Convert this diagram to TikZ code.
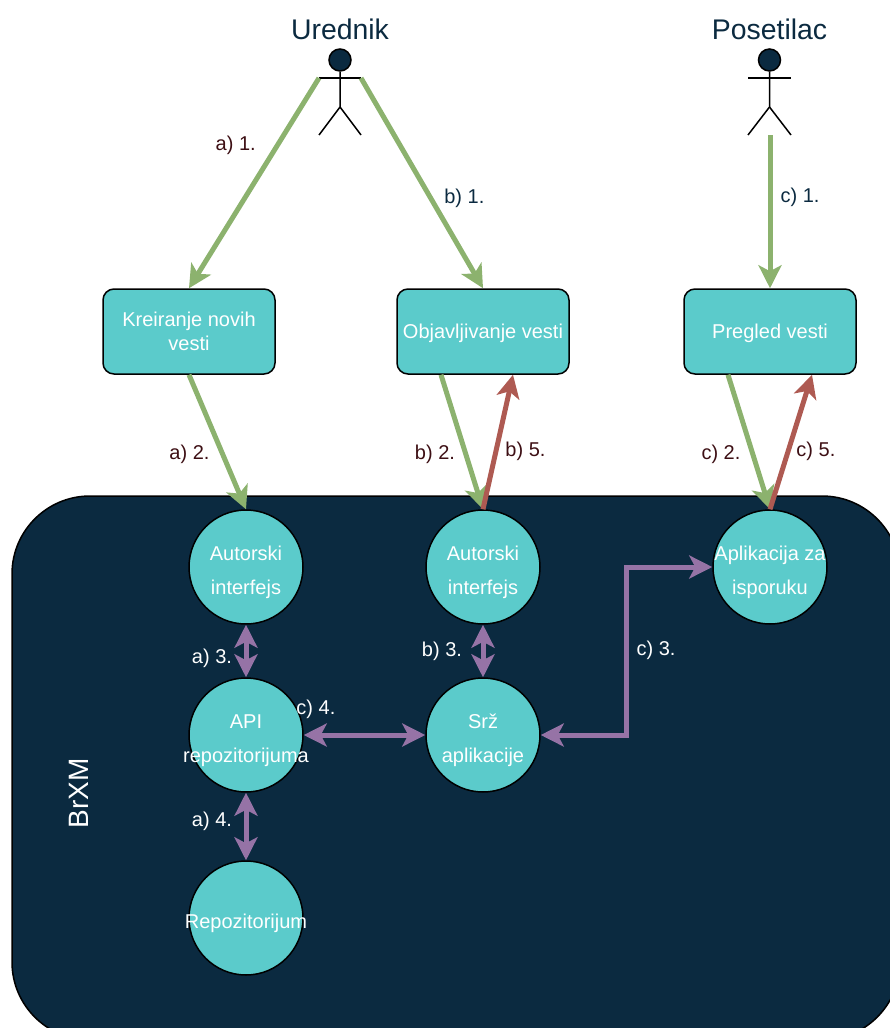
\documentclass[tikz,border=0pt]{standalone}
\usepackage{fontspec}
\setmainfont{Liberation Sans}
\usepackage{tikz}
\usetikzlibrary{shapes.geometric, arrows.meta, calc}
\definecolor{tamna}{HTML}{0B2A40}
\definecolor{tirkiz}{HTML}{5BCBCB}
\definecolor{zelena}{HTML}{8CB26E}
\definecolor{crvena}{HTML}{AE5A52}
\definecolor{ljubicasta}{HTML}{9673A6}
\definecolor{braon}{HTML}{3D0F14}
\newcommand{\clab}[1]{\makebox[0pt]{#1}}
\newcommand{\vrh}{\rule{0pt}{25pt}}

\begin{document}
\begin{tikzpicture}[x=1pt,y=1pt,line width=1.5pt]
\tikzstyle{okvir} = [rectangle, rounded corners=78pt, minimum width=888pt, minimum height=544pt, draw=black, fill=tamna]
\tikzstyle{krug} = [circle, minimum size=114pt, inner sep=0pt, draw=black, fill=tirkiz, text=white, align=center, font=\fontsize{20}{34}\selectfont]
\tikzstyle{kutija} = [rectangle, rounded corners=11pt, minimum width=172pt, minimum height=85pt, inner sep=0pt, draw=black, fill=tirkiz, text=white, align=center, font=\fontsize{20}{24}\selectfont]
\tikzstyle{glava} = [circle, minimum size=22pt, inner sep=0pt, draw=black, fill=tamna]
\tikzstyle{uloga} = [text=tamna, inner sep=0pt, font=\fontsize{28.4}{32}\selectfont]
\tikzstyle{oznaka} = [inner sep=0pt, yshift=-2.5pt, font=\fontsize{20}{24}\selectfont]
\tikzstyle{arrow} = [line width=5pt, -{Stealth[length=23pt,width=23pt,inset=6pt]}]
\tikzstyle{dvosmerna} = [line width=5pt, ljubicasta, {Stealth[length=23pt,width=23pt,inset=6pt]}-{Stealth[length=23pt,width=23pt,inset=6pt]}]
\useasboundingbox (0,0) rectangle (889,-1028);

% BrXM
\node (brxm) [okvir] at (456,-768) {};
\node (naziv) [text=white, rotate=90, inner sep=0pt, font=\fontsize{28}{32}\selectfont] at (79,-793) {BrXM};

% Krugovi
\node (autorA) [krug] at (246,-567) {\vrh Autorski\\interfejs};
\node (apiRepo) [krug, below of=autorA, node distance=168pt] {\vrh API\\\clab{repozitorijuma}};
\node (repo) [krug, below of=apiRepo, node distance=183pt] {\vrh\clab{Repozitorijum}};
\node (autorB) [krug, right of=autorA, node distance=237pt] {\vrh Autorski\\interfejs};
\node (srz) [krug, below of=autorB, node distance=168pt] {\vrh Srž\\aplikacije};
\node (isporuka) [krug, right of=autorB, node distance=287pt] {\vrh\clab{Aplikacija za}\\isporuku};

% Kutije
\node (kreiranje) [kutija, above of=autorA, node distance=235.5pt, xshift=-57pt] {Kreiranje novih\\vesti};
\node (objava) [kutija, above of=autorB, node distance=235.5pt] {\rule{0pt}{18pt}Objavljivanje vesti};
\node (pregled) [kutija, above of=isporuka, node distance=235.5pt] {\rule{0pt}{18pt}Pregled vesti};

% Akteri
\node (glavaU) [glava] at (340,-60) {};
\node (urednik) [uloga, above of=glavaU, node distance=31pt] {Urednik};
\coordinate (ruka1U) at (319,-78);
\coordinate (ruka2U) at (361,-78);
\coordinate (kukU) at (340,-107);
\coordinate (noga1U) at (319,-135);
\coordinate (noga2U) at (361,-135);
\draw (glavaU) -- (kukU) -- (noga1U);
\draw (kukU) -- (noga2U);
\draw (ruka1U) -- (ruka2U);

\node (glavaP) [glava] at (769.5,-60) {};
\node (posetilac) [uloga, above of=glavaP, node distance=31pt] {Posetilac};
\coordinate (ruka1P) at (748,-78);
\coordinate (ruka2P) at (791,-78);
\coordinate (kukP) at (769.5,-107);
\coordinate (noga1P) at (748,-135);
\coordinate (noga2P) at (791,-135);
\draw (glavaP) -- (kukP) -- (noga1P);
\draw (kukP) -- (noga2P);
\draw (ruka1P) -- (ruka2P);

% Strelice
\draw [arrow, zelena] (ruka1U) -- node[oznaka, text=braon, pos=0.31, xshift=-43pt] {a) 1.} (kreiranje.north);
\draw [arrow, zelena] (ruka2U) -- node[oznaka, text=tamna, pos=0.56, xshift=35pt] {b) 1.} (objava.north);
\draw [arrow, zelena] (noga1P -| pregled.north) -- node[oznaka, text=tamna, pos=0.39, xshift=30pt] {c) 1.} (pregled.north);
\draw [arrow, zelena] (kreiranje.south) -- node[oznaka, text=braon, pos=0.57, xshift=-32pt] {a) 2.} (autorA.north);
\draw [arrow, zelena] ($(objava.south)+(-42,0)$) -- node[oznaka, text=braon, pos=0.57, xshift=-30pt] {b) 2.} (autorB.north);
\draw [arrow, crvena] (autorB.north) -- node[oznaka, text=braon, pos=0.45, xshift=29pt] {b) 5.} ($(objava.south)+(30,0)$);
\draw [arrow, zelena] ($(pregled.south)+(-42,0)$) -- node[oznaka, text=braon, pos=0.57, xshift=-31pt] {c) 2.} (isporuka.north);
\draw [arrow, crvena] (isporuka.north) -- node[oznaka, text=braon, pos=0.45, xshift=27pt] {c) 5.} ($(pregled.south)+(42,0)$);
\draw [dvosmerna] (autorA.south) -- node[oznaka, text=white, pos=0.6, xshift=-34pt] {a) 3.} (apiRepo.north);
\draw [dvosmerna] (apiRepo.south) -- node[oznaka, text=white, pos=0.38, xshift=-34pt] {a) 4.} (repo.north);
\draw [dvosmerna] (autorB.south) -- node[oznaka, text=white, pos=0.45, xshift=-41pt] {b) 3.} (srz.north);
\draw [dvosmerna] (apiRepo.east) -- node[oznaka, text=white, pos=0.1, yshift=28pt] {c) 4.} (srz.west);
\coordinate (lom) at (626,-567);
\draw [dvosmerna] (srz.east) -| node[oznaka, text=white, pos=0.76, xshift=30pt] {c) 3.} (lom) -- (isporuka.west);

\end{tikzpicture}
\end{document}
